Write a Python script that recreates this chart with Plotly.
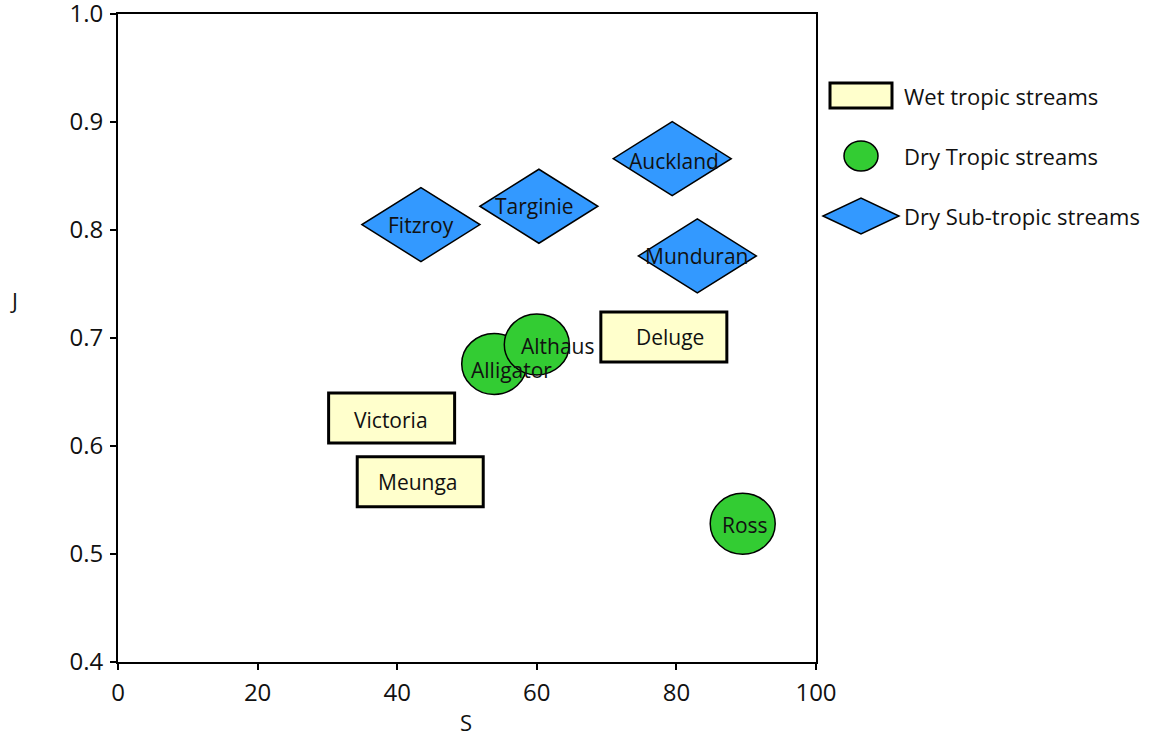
import plotly.graph_objects as go

# Stream sites: S (x) and J (y) per group
wet_names = ["Victoria", "Meunga", "Deluge"]
wet_s = [39.2, 43.3, 78.2]
wet_j = [0.626, 0.567, 0.701]

dry_names = ["Alligator", "Althaus", "Ross"]
dry_s = [53.9, 60.0, 89.5]
dry_j = [0.676, 0.694, 0.528]

sub_names = ["Fitzroy", "Targinie", "Auckland", "Munduran"]
sub_s = [43.4, 60.3, 79.4, 83.0]
sub_j = [0.805, 0.822, 0.866, 0.776]

x_ticks = [0, 20, 40, 60, 80, 100]
y_ticks = [0.4, 0.5, 0.6, 0.7, 0.8, 0.9, 1.0]
y_tick_text = ["0.4", "0.5", "0.6", "0.7", "0.8", "0.9", "1.0"]

legend_labels = ["Wet tropic streams", "Dry Tropic streams", "Dry Sub-tropic streams"]

YELLOW = "#FFFFCC"
GREEN = "#33CC33"
BLUE = "#3399FF"
FONT = "Segoe UI, Open Sans, sans-serif"

# plot area in pixels
W, H = 1151, 736
L, R, T, B = 118, 335, 14, 74
PW, PH = W - L - R, H - T - B


def px(xp):
    return (xp - L) / PW


def py(yp):
    return (H - B - yp) / PH


fig = go.Figure()
shapes = []
annotations = []

# Wet tropic: rectangles
for n, x, y in zip(wet_names, wet_s, wet_j):
    shapes.append(dict(type="rect", xref="x", yref="y", xsizemode="pixel", ysizemode="pixel",
                       xanchor=x, yanchor=y, x0=-63, x1=63, y0=-25, y1=25,
                       fillcolor=YELLOW, line=dict(color="black", width=3), layer="above"))

# Dry tropic: circles
for n, x, y in zip(dry_names, dry_s, dry_j):
    shapes.append(dict(type="circle", xref="x", yref="y", xsizemode="pixel", ysizemode="pixel",
                       xanchor=x, yanchor=y, x0=-32.5, x1=32.5, y0=-30.5, y1=30.5,
                       fillcolor=GREEN, line=dict(color="black", width=1.5), layer="above"))

# Dry sub-tropic: diamonds
for n, x, y in zip(sub_names, sub_s, sub_j):
    shapes.append(dict(type="path", xref="x", yref="y", xsizemode="pixel", ysizemode="pixel",
                       xanchor=x, yanchor=y, path="M -59 0 L 0 -37 L 59 0 L 0 37 Z",
                       fillcolor=BLUE, line=dict(color="black", width=1.5), layer="above"))

# label shifts (pixels) relative to each mark centre
label_shift = {
    "Victoria": (-1, -2), "Meunga": (-2, 0), "Deluge": (6, 0),
    "Alligator": (17, -6), "Althaus": (21, -2), "Ross": (2, -1),
    "Fitzroy": (0, 0), "Targinie": (-4, 0), "Auckland": (2, -2), "Munduran": (0, 0),
}

for names, xs, ys in ((wet_names, wet_s, wet_j), (dry_names, dry_s, dry_j), (sub_names, sub_s, sub_j)):
    for n, x, y in zip(names, xs, ys):
        dx, dy = label_shift[n]
        annotations.append(dict(x=x, y=y, xref="x", yref="y", text=n, showarrow=False,
                                xshift=dx, yshift=dy, font=dict(family=FONT, size=21, color="#111111")))

# legend drawn in paper coordinates
shapes.append(dict(type="rect", xref="paper", yref="paper", x0=px(830), x1=px(892), y0=py(108), y1=py(83),
                   fillcolor=YELLOW, line=dict(color="black", width=3)))
shapes.append(dict(type="circle", xref="paper", yref="paper", x0=px(844), x1=px(878), y0=py(171), y1=py(141),
                   fillcolor=GREEN, line=dict(color="black", width=1.5)))
cx, cy = px(861), py(216)
shapes.append(dict(type="path", xref="paper", yref="paper", xsizemode="pixel", ysizemode="pixel",
                   xanchor=cx, yanchor=cy, path="M -38 0 L 0 -18 L 38 0 L 0 18 Z",
                   fillcolor=BLUE, line=dict(color="black", width=1.5)))
for lab, yp in zip(legend_labels, [96, 156, 216]):
    annotations.append(dict(x=px(902), y=py(yp), xref="paper", yref="paper", text=lab, showarrow=False,
                            xanchor="left", yanchor="middle", font=dict(family=FONT, size=22, color="#111111")))

# axis titles
annotations.append(dict(x=px(466), y=py(722), xref="paper", yref="paper", text="S", showarrow=False,
                        xanchor="center", yanchor="middle", font=dict(family=FONT, size=22, color="#111111")))
annotations.append(dict(x=px(14), y=py(300), xref="paper", yref="paper", text="J", showarrow=False,
                        xanchor="center", yanchor="middle", font=dict(family=FONT, size=22, color="#111111")))

fig.add_trace(go.Scatter(x=[None], y=[None], mode="markers", showlegend=False, hoverinfo="skip"))

axis_common = dict(showgrid=False, zeroline=False, showline=True, linecolor="black", linewidth=2,
                   mirror=True, ticks="outside", ticklen=6, tickwidth=2, tickcolor="black",
                   ticklabeloverflow="allow", automargin=False,
                   tickfont=dict(family=FONT, size=24, color="#111111"))

fig.update_layout(
    width=W, height=H,
    margin=dict(l=L, r=R, t=T, b=B, autoexpand=False),
    paper_bgcolor="white", plot_bgcolor="white",
    showlegend=False,
    xaxis=dict(range=[0, 100], tickmode="array", tickvals=x_ticks, ticklabelstandoff=2, **axis_common),
    yaxis=dict(range=[0.4, 1.0], tickmode="array", tickvals=y_ticks, ticktext=y_tick_text,
               ticklabelstandoff=2, **axis_common),
    shapes=shapes,
    annotations=annotations,
)

fig.write_html("out.html")
